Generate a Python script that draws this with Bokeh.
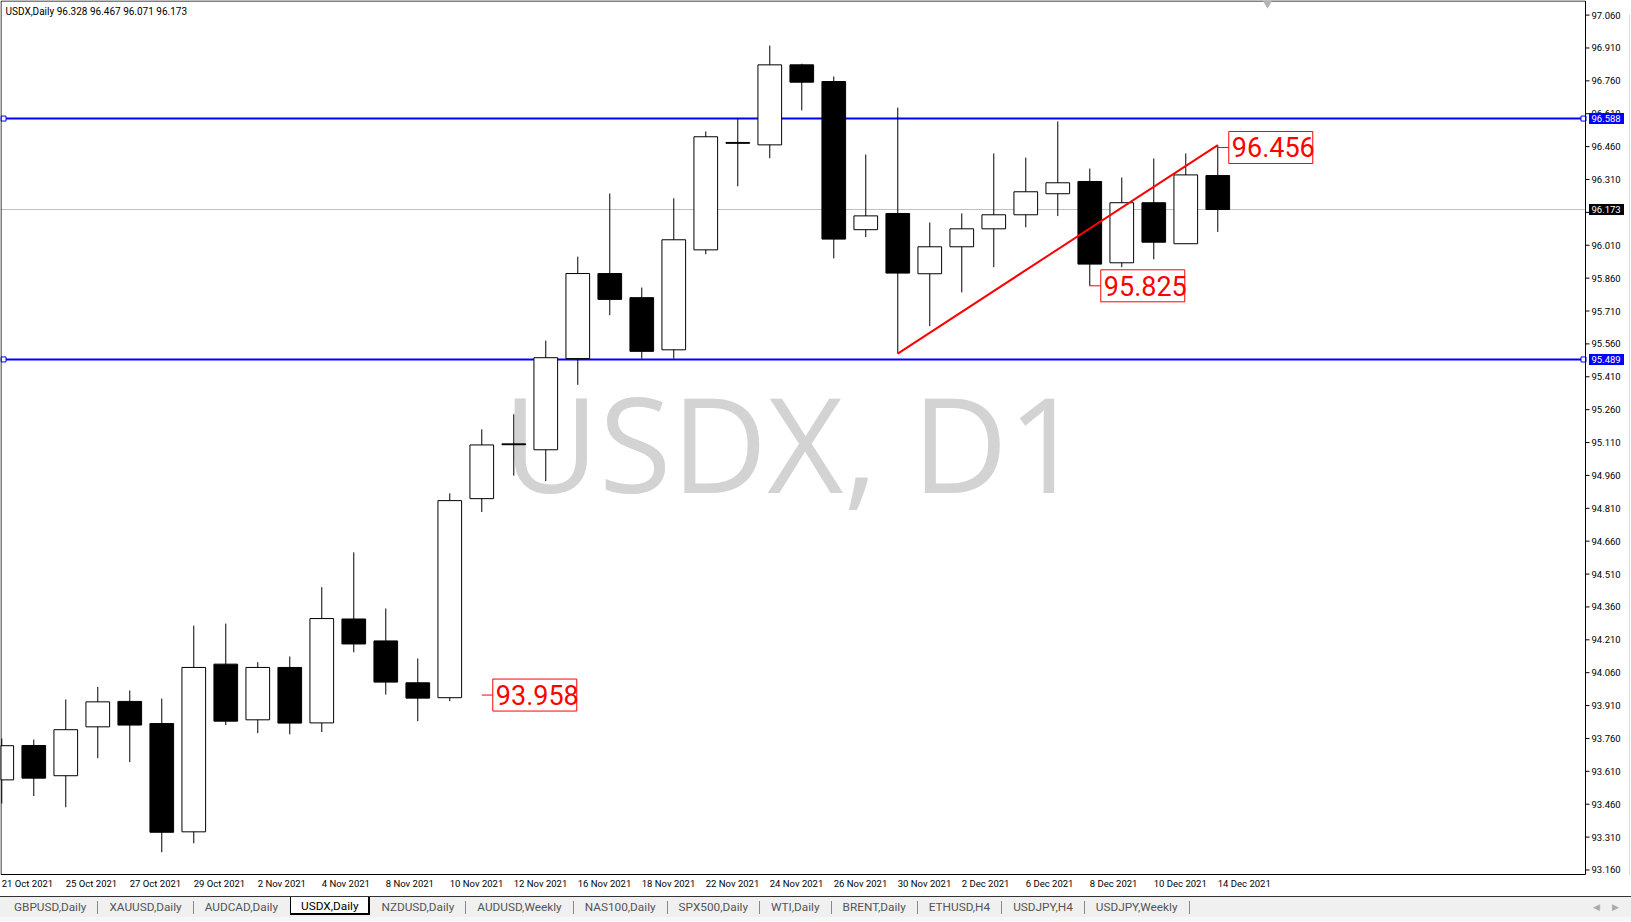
from bokeh.plotting import figure
from bokeh.models import Range1d, ColumnDataSource, Div
from bokeh.layouts import column
from bokeh.embed import file_html
from bokeh.resources import INLINE
from bokeh.core.properties import value

# ---------------- data ----------------
dates = ["21 Oct 2021", "22 Oct 2021", "25 Oct 2021", "26 Oct 2021", "27 Oct 2021", "28 Oct 2021",
         "29 Oct 2021", "1 Nov 2021", "2 Nov 2021", "3 Nov 2021", "4 Nov 2021", "5 Nov 2021",
         "8 Nov 2021", "9 Nov 2021", "10 Nov 2021", "11 Nov 2021", "12 Nov 2021", "15 Nov 2021",
         "16 Nov 2021", "17 Nov 2021", "18 Nov 2021", "19 Nov 2021", "22 Nov 2021", "23 Nov 2021",
         "24 Nov 2021", "25 Nov 2021", "26 Nov 2021", "29 Nov 2021", "30 Nov 2021", "1 Dec 2021",
         "2 Dec 2021", "3 Dec 2021", "6 Dec 2021", "7 Dec 2021", "8 Dec 2021", "9 Dec 2021",
         "10 Dec 2021", "13 Dec 2021", "14 Dec 2021"]

opens = [93.571, 93.728, 93.590, 93.813, 93.929, 93.828, 93.334, 94.099, 93.845, 94.084,
         93.831, 94.305, 94.205, 94.014, 93.946, 94.854, 95.104, 95.077, 95.493, 95.881,
         95.771, 95.533, 95.989, 96.479, 96.468, 96.833, 96.757, 96.081, 96.155, 95.880,
         96.003, 96.085, 96.149, 96.245, 96.301, 95.930, 96.204, 96.017, 96.328]
highs = [93.760, 93.755, 93.938, 93.995, 93.979, 93.942, 94.275, 94.284, 94.108, 94.134,
         94.450, 94.609, 94.353, 94.125, 94.878, 95.170, 95.239, 95.575, 95.958, 96.246,
         95.817, 96.224, 96.529, 96.591, 96.921, 96.838, 96.780, 96.424, 96.638, 96.114,
         96.155, 96.429, 96.410, 96.575, 96.360, 96.319, 96.406, 96.429, 96.467]
lows = [93.463, 93.497, 93.446, 93.670, 93.652, 93.241, 93.282, 93.821, 93.784, 93.779,
        93.789, 94.153, 93.960, 93.839, 93.930, 94.793, 94.959, 94.934, 95.373, 95.691,
        95.493, 95.493, 95.969, 96.279, 96.407, 96.625, 95.950, 96.047, 95.516, 95.641,
        95.795, 95.910, 96.092, 96.143, 95.825, 95.910, 95.946, 96.017, 96.071]
closes = [93.727, 93.579, 93.800, 93.927, 93.821, 93.332, 94.084, 93.839, 94.084, 93.830,
          94.307, 94.191, 94.017, 93.944, 94.845, 95.099, 95.100, 95.497, 95.881, 95.763,
          95.526, 96.035, 96.505, 96.475, 96.833, 96.754, 96.038, 96.144, 95.883, 96.003,
          96.085, 96.149, 96.254, 96.295, 95.924, 96.204, 96.024, 96.331, 96.173]

y_ticks = [93.160, 93.310, 93.460, 93.610, 93.760, 93.910, 94.060, 94.210, 94.360, 94.510,
           94.660, 94.810, 94.960, 95.110, 95.260, 95.410, 95.560, 95.710, 95.860, 96.010,
           96.160, 96.310, 96.460, 96.610, 96.760, 96.910, 97.060]
y_tick_labels = ["93.160", "93.310", "93.460", "93.610", "93.760", "93.910", "94.060", "94.210",
                 "94.360", "94.510", "94.660", "94.810", "94.960", "95.110", "95.260", "95.410",
                 "95.560", "95.710", "95.860", "96.010", "96.160", "96.310", "96.460", "96.610",
                 "96.760", "96.910", "97.060"]
# the 96.160 label sits under the current-price tag
y_tick_labels = [t if t != "96.160" else "" for t in y_tick_labels]

h_levels = [96.588, 95.489]            # blue horizontal lines
callout_idx = [15, 34, 38]             # red price labels
callout_price = [93.958, 95.825, 96.456]
trend_idx = [28, 38]                   # red trend line (30 Nov low -> 14 Dec high)

symbol = "USDX"
period = "Daily"
watermark = "USDX, D1"
tabs = ["GBPUSD,Daily", "XAUUSD,Daily", "AUDCAD,Daily", "USDX,Daily", "NZDUSD,Daily",
        "AUDUSD,Weekly", "NAS100,Daily", "SPX500,Daily", "WTI,Daily", "BRENT,Daily",
        "ETHUSD,H4", "USDJPY,H4", "USDJPY,Weekly"]
active_tab = "USDX,Daily"

# ---------------- geometry (pixel layout of the MT4 window) ----------------
W = 1631
H_MAIN = 896
TAB_H = 25
BAR_PX = 32.0          # pixels per bar
UNIT_PX = 219.2        # pixels per 1.0 of price
X0 = -0.04             # bar index at the left window edge
YT = 97.1266           # price at the top window edge
CHART_R = 1585         # px: right edge of chart (price scale line)
CHART_B = 874          # px: bottom edge of chart (time scale line)
FONT = value("Roboto")


def sx(px):
    return X0 + px / BAR_PX


def sy(py):
    return YT - py / UNIT_PX


idx = list(range(len(dates)))
body_top = [max(o, c) for o, c in zip(opens, closes)]
body_bot = [min(o, c) for o, c in zip(opens, closes)]
fills = ["white" if c > o else "black" for o, c in zip(opens, closes)]

p = figure(width=W, height=H_MAIN, output_backend="svg", toolbar_location=None,
           x_range=Range1d(X0, sx(W)), y_range=Range1d(sy(H_MAIN), YT),
           x_axis_location=None, y_axis_location=None,
           min_border_left=0, min_border_top=0, min_border_right=0, min_border_bottom=0)
p.grid.visible = False
p.outline_line_color = None
p.background_fill_color = "white"
p.border_fill_color = "white"

# watermark (centred in chart area)
p.text(x=[sx(CHART_R / 2)], y=[sy(441)], text=[watermark], text_align="center",
       text_baseline="middle", text_font=value("Open Sans"), text_font_size="132px",
       text_color="#d3d3d3")

# current price line
p.segment(x0=[X0], x1=[sx(CHART_R)], y0=[closes[-1]], y1=[closes[-1]],
          line_color="#c0c0c0", line_width=1)

# blue levels
p.segment(x0=[X0] * len(h_levels), x1=[sx(CHART_R)] * len(h_levels), y0=h_levels, y1=h_levels,
          line_color="#0000ff", line_width=2)
p.scatter([sx(3)] * len(h_levels), h_levels, marker="square", size=5,
          fill_color="white", line_color="#0000ff", line_width=1)
p.scatter([sx(CHART_R - 2)] * len(h_levels), h_levels, marker="square", size=5,
          fill_color="white", line_color="#0000ff", line_width=1)

# candles
src = ColumnDataSource(dict(x=idx, o=opens, h=highs, l=lows, c=closes,
                            top=body_top, bot=body_bot, fill=fills))
p.segment(x0="x", y0="l", x1="x", y1="h", source=src, line_color="black", line_width=1)
p.vbar(x="x", width=0.74, top="top", bottom="bot", source=src,
       fill_color="fill", line_color="black", line_width=1)

# trend line
p.line(trend_idx, [lows[trend_idx[0]], highs[trend_idx[1]]], line_color="#ff0000", line_width=2)

# red callouts
cx = [i + 11 / BAR_PX for i in callout_idx]
p.segment(x0=callout_idx, y0=callout_price, x1=cx, y1=callout_price,
          line_color="#ff0000", line_width=1)
p.rect(x=[c + 42 / BAR_PX for c in cx], y=callout_price, width=84, height=32,
       width_units="screen", height_units="screen", fill_color="white",
       line_color="#ff0000", line_width=1)
p.text(x=[c + 3 / BAR_PX for c in cx], y=callout_price,
       text=[f"{v:.3f}" for v in callout_price], text_align="left", text_baseline="middle",
       text_font=FONT, text_font_size="27px", text_color="#ff0000")

# chart frame
p.quad(left=[X0 + 0.5 / BAR_PX], right=[sx(CHART_R)], top=[YT - 0.5 / UNIT_PX], bottom=[sy(CHART_B)],
       fill_color=None, line_color="black", line_width=1)

# price scale: ticks and labels
p.segment(x0=[sx(CHART_R)] * len(y_ticks), x1=[sx(CHART_R + 4)] * len(y_ticks),
          y0=y_ticks, y1=y_ticks, line_color="black", line_width=1)
p.text(x=[sx(1591)] * len(y_ticks), y=y_ticks, text=y_tick_labels, text_align="left",
       text_baseline="middle", text_font=FONT, text_font_size="9.5px", text_color="black")

# price tags
tag_vals = h_levels + [closes[-1]]
tag_cols = ["#0000ff"] * len(h_levels) + ["black"]
p.rect(x=[sx(1606)] * len(tag_vals), y=tag_vals, width=35, height=11,
       width_units="screen", height_units="screen", fill_color=tag_cols, line_color=None)
p.text(x=[sx(1591)] * len(tag_vals), y=tag_vals, text=[f"{v:.3f}" for v in tag_vals],
       text_align="left", text_baseline="middle", text_font=FONT, text_font_size="9.5px",
       text_color="white")

# window edge line and chart-shift marker
p.segment(x0=[sx(1629)], x1=[sx(1629)], y0=[sy(14)], y1=[sy(CHART_B)],
          line_color="#dcdcdc", line_width=1)
p.scatter([sx(1267)], [sy(3)], marker="inverted_triangle", size=9,
          fill_color="#b4b4b4", line_color=None)

# info text
info = f"{symbol},{period}  {opens[-1]:.3f} {highs[-1]:.3f} {lows[-1]:.3f} {closes[-1]:.3f}"
p.text(x=[sx(5)], y=[sy(10.5)], text=[info], text_align="left", text_baseline="middle",
       text_font=FONT, text_font_size="10px", text_color="black")

# time scale labels
p.text(x=idx[::2], y=[sy(883)] * len(idx[::2]), text=dates[::2], text_align="left",
       text_baseline="middle", text_font=FONT, text_font_size="9.5px", text_color="black")

# ---------------- tab bar ----------------
parts = []
for i, t in enumerate(tabs):
    if t == active_tab:
        parts.append(f'<span style="display:inline-block;height:18px;line-height:18px;padding:0 10px;'
                     f'background:#fff;color:#000;border-left:1px solid #000;border-right:2px solid #000;'
                     f'border-bottom:2px solid #000;margin-left:1px">{t}</span>')
    else:
        parts.append(f'<span style="display:inline-block;height:20px;line-height:20px;padding:0 11px 0 11px;'
                     f'color:#555">{t}</span>')
        nxt = tabs[i + 1] if i + 1 < len(tabs) else None
        if nxt != active_tab:
            parts.append('<span style="display:inline-block;width:1px;height:13px;background:#888;'
                         'margin-top:4px"></span>')
html = (f'<div style="position:relative;width:{W}px;height:{TAB_H}px;background:#f7f7f7;'
        f'font-family:Roboto;font-size:11.8px;overflow:hidden">'
        f'<div style="position:absolute;left:0;top:0;width:{W}px;height:21px;background:#f0f0f0;'
        f'border-top:1px solid #333;display:flex;align-items:flex-start;padding-left:3px;box-sizing:border-box">'
        + "".join(parts) +
        '</div>'
        '<span style="position:absolute;right:31px;top:5px;color:#aaa;font-size:9px">&#9664;</span>'
        '<span style="position:absolute;right:12px;top:5px;color:#aaa;font-size:9px">&#9654;</span>'
        '</div>')
tabbar = Div(text=html, width=W, height=TAB_H, margin=0)

layout = column(p, tabbar, spacing=0)
open("out.html", "w").write(file_html(layout, INLINE))
